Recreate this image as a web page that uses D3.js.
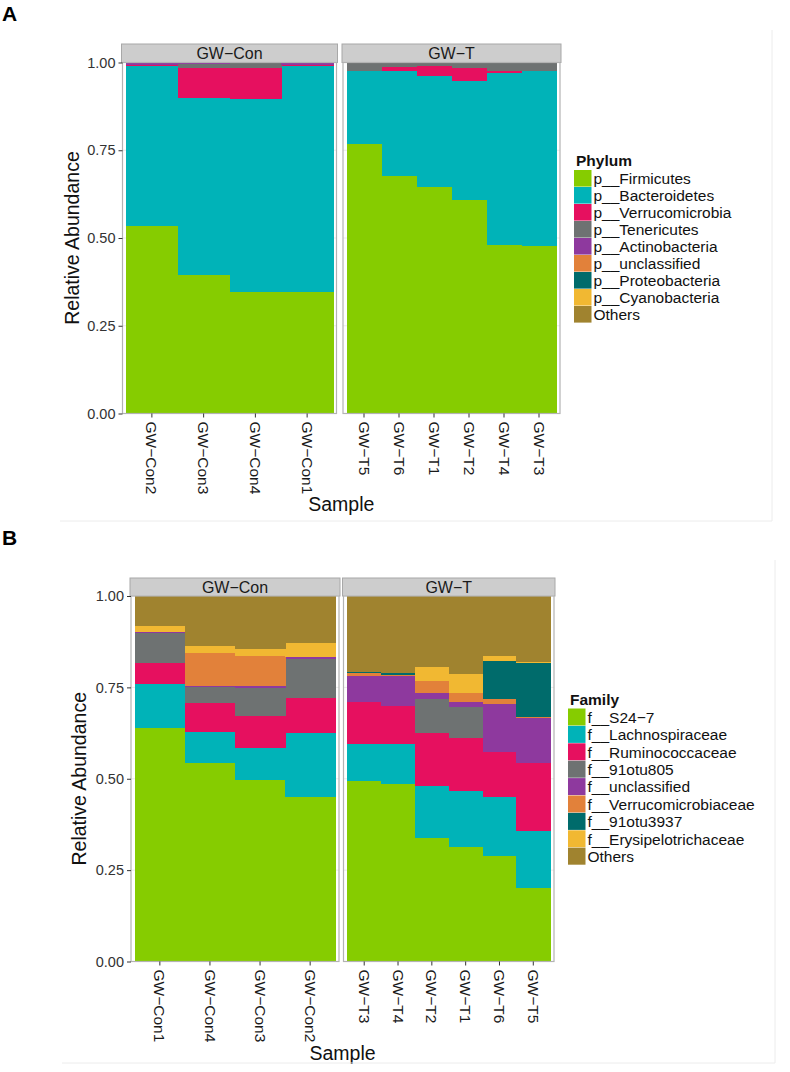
<!DOCTYPE html>
<html>
<head>
<meta charset="utf-8">
<script src="https://cdn.jsdelivr.net/npm/d3@7"></script>
<style>
  body { margin: 0; background: #fff; }
  svg { display: block; font-family: 'Liberation Sans', Arial, sans-serif; }
</style>
</head>
<body>
<div id="chart"></div>
<script>
// ---------- Panel A: phylum ----------
const samplesConA = ['GW\u2212Con2', 'GW\u2212Con3', 'GW\u2212Con4', 'GW\u2212Con1'];
const samplesTA = ['GW\u2212T5', 'GW\u2212T6', 'GW\u2212T1', 'GW\u2212T2', 'GW\u2212T4', 'GW\u2212T3'];
const phyla = ['p__Firmicutes', 'p__Bacteroidetes', 'p__Verrucomicrobia', 'p__Tenericutes',
  'p__Actinobacteria', 'p__unclassified', 'p__Proteobacteria', 'p__Cyanobacteria', 'Others'];
// values in sample order: Con2, Con3, Con4, Con1, T5, T6, T1, T2, T4, T3
const firmicutes      = [0.535, 0.395, 0.346, 0.346, 0.769, 0.678, 0.646, 0.607, 0.481, 0.478];
const bacteroidetes   = [0.454, 0.505, 0.549, 0.643, 0.207, 0.298, 0.316, 0.340, 0.490, 0.498];
const verrucomicrobia = [0.003, 0.083, 0.088, 0.003, 0.000, 0.010, 0.027, 0.036, 0.005, 0.000];
const tenericutes     = [0.002, 0.014, 0.015, 0.002, 0.022, 0.012, 0.009, 0.015, 0.022, 0.022];
const actinobacteria  = [0.005, 0.002, 0.001, 0.005, 0.001, 0.001, 0.001, 0.001, 0.001, 0.001];
const pUnclassified   = [0.000, 0.000, 0.000, 0.000, 0.000, 0.000, 0.000, 0.000, 0.000, 0.000];
const proteobacteria  = [0.000, 0.000, 0.000, 0.000, 0.000, 0.000, 0.000, 0.000, 0.000, 0.000];
const cyanobacteria   = [0.000, 0.000, 0.000, 0.000, 0.000, 0.000, 0.000, 0.000, 0.000, 0.000];
const othersA         = [0.001, 0.001, 0.001, 0.001, 0.001, 0.001, 0.001, 0.001, 0.001, 0.001];

// ---------- Panel B: family ----------
const samplesConB = ['GW\u2212Con1', 'GW\u2212Con4', 'GW\u2212Con3', 'GW\u2212Con2'];
const samplesTB = ['GW\u2212T3', 'GW\u2212T4', 'GW\u2212T2', 'GW\u2212T1', 'GW\u2212T6', 'GW\u2212T5'];
const families = ['f__S24\u22127', 'f__Lachnospiraceae', 'f__Ruminococcaceae', 'f__91otu805',
  'f__unclassified', 'f__Verrucomicrobiaceae', 'f__91otu3937', 'f__Erysipelotrichaceae', 'Others'];
// values in sample order: Con1, Con4, Con3, Con2, T3, T4, T2, T1, T6, T5
const s247              = [0.638, 0.543, 0.497, 0.450, 0.494, 0.487, 0.339, 0.314, 0.289, 0.200];
const lachnospiraceae   = [0.121, 0.086, 0.086, 0.174, 0.101, 0.108, 0.142, 0.153, 0.162, 0.158];
const ruminococcaceae   = [0.057, 0.079, 0.089, 0.096, 0.116, 0.104, 0.143, 0.145, 0.123, 0.184];
const otu805            = [0.083, 0.042, 0.075, 0.107, 0.000, 0.000, 0.093, 0.085, 0.000, 0.000];
const fUnclassified     = [0.003, 0.004, 0.007, 0.007, 0.071, 0.081, 0.018, 0.014, 0.131, 0.125];
const verrucomicrobiaceae = [0.000, 0.089, 0.082, 0.000, 0.008, 0.004, 0.033, 0.023, 0.012, 0.003];
const otu3937           = [0.000, 0.000, 0.000, 0.000, 0.003, 0.006, 0.000, 0.000, 0.105, 0.146];
const erysipelotrichaceae = [0.016, 0.020, 0.018, 0.037, 0.000, 0.000, 0.037, 0.052, 0.014, 0.004];
const othersB           = [0.082, 0.137, 0.146, 0.129, 0.207, 0.210, 0.195, 0.214, 0.164, 0.180];

const yTicks = [0, 0.25, 0.5, 0.75, 1];
const taxonColors = ['#86cc00', '#00b3b8', '#e6105f', '#6e7272', '#8e399e',
  '#e2813a', '#006b6b', '#f1b832', '#a0832f'];

const svg = d3.select('#chart').append('svg')
    .attr('width', 790)
    .attr('height', 1072);

// build the long rows that d3.stack wants
function buildRows(samples, keys, series) {
  return samples.map((s, i) => {
    const row = { sample: s };
    keys.forEach((k, j) => { row[k] = series[j][i]; });
    return row;
  });
}

function drawFacets(cfg) {
  const g = svg.append('g');
  const rows = buildRows(cfg.samples, cfg.keys, cfg.series);
  const stack = d3.stack().keys(cfg.keys);
  const color = d3.scaleOrdinal().domain(cfg.keys).range(taxonColors);

  const y = d3.scaleLinear()
      .domain([0, 1])
      .range([cfg.bottom, cfg.top]);

  let offset = 0;
  cfg.panels.forEach((p, pi) => {
    const panelRows = rows.slice(offset, offset + p.n);
    offset += p.n;

    // strip
    g.append('rect')
        .attr('x', p.x0 - 1).attr('y', cfg.stripTop)
        .attr('width', p.x1 - p.x0 + 2).attr('height', cfg.top - cfg.stripTop)
        .attr('fill', '#cdcdcd').attr('stroke', '#a8a8a8').attr('stroke-width', 1);
    g.append('text')
        .attr('x', (p.x0 + p.x1) / 2)
        .attr('y', (cfg.stripTop + cfg.top) / 2)
        .attr('dy', '0.36em')
        .attr('text-anchor', 'middle')
        .attr('font-size', 16)
        .attr('fill', '#1a1a1a')
        .text(p.name);

    // panel background + grid
    g.append('rect')
        .attr('x', p.x0).attr('y', cfg.top)
        .attr('width', p.x1 - p.x0).attr('height', cfg.bottom - cfg.top)
        .attr('fill', '#fff');
    g.append('g').selectAll('line')
        .data(yTicks)
        .join('line')
        .attr('x1', p.x0).attr('x2', p.x1)
        .attr('y1', d => y(d)).attr('y2', d => y(d))
        .attr('stroke', '#ebebeb');

    const x = d3.scaleBand()
        .domain(panelRows.map(d => d.sample))
        .range([p.x0 + cfg.pad, p.x1 - cfg.pad])
        .padding(0);

    g.append('g')
        .attr('shape-rendering', 'crispEdges')
        .selectAll('g')
        .data(stack(panelRows))
        .join('g')
        .attr('fill', d => color(d.key))
        .selectAll('rect')
        .data(d => d)
        .join('rect')
        .attr('x', d => x(d.data.sample))
        .attr('width', x.bandwidth() + 0.5)
        .attr('y', d => y(d[1]))
        .attr('height', d => Math.max(0, y(d[0]) - y(d[1])));

    // panel border
    g.append('rect')
        .attr('x', p.x0).attr('y', cfg.top)
        .attr('width', p.x1 - p.x0).attr('height', cfg.bottom - cfg.top)
        .attr('fill', 'none').attr('stroke', '#b3b3b3').attr('stroke-width', 1.2);

    // x axis
    const xAxis = g.append('g')
        .attr('transform', `translate(0, ${cfg.bottom})`)
        .call(d3.axisBottom(x).tickSize(4).tickSizeOuter(0));
    xAxis.select('.domain').remove();
    xAxis.selectAll('line').attr('stroke', '#333');
    xAxis.selectAll('text')
        .attr('x', 8).attr('y', 0)
        .attr('dy', '0.35em')
        .attr('transform', 'rotate(90)')
        .style('text-anchor', 'start')
        .attr('font-size', 15.5)
        .attr('font-family', "'Liberation Sans', Arial, sans-serif")
        .attr('fill', '#1a1a1a');

    if (pi === 0) {
      const yAxis = g.append('g')
          .attr('transform', `translate(${p.x0}, 0)`)
          .call(d3.axisLeft(y).tickValues(yTicks).tickFormat(d3.format('.2f')).tickSize(4).tickPadding(3));
      yAxis.select('.domain').remove();
      yAxis.selectAll('line').attr('stroke', '#333');
      yAxis.selectAll('text')
          .attr('font-size', 14.5)
          .attr('font-family', "'Liberation Sans', Arial, sans-serif")
          .attr('fill', '#333');
    }
  });

  // axis titles
  g.append('text')
      .attr('transform', `translate(${cfg.yTitleX}, ${(cfg.top + cfg.bottom) / 2}) rotate(-90)`)
      .attr('text-anchor', 'middle')
      .attr('font-size', 19.5)
      .attr('fill', '#111')
      .text('Relative Abundance');
  g.append('text')
      .attr('x', (cfg.panels[0].x0 + cfg.panels[1].x1) / 2)
      .attr('y', cfg.sampleY)
      .attr('text-anchor', 'middle')
      .attr('font-size', 19.5)
      .attr('fill', '#111')
      .text('Sample');

  // legend
  const lg = g.append('g').attr('transform', `translate(${cfg.legendX}, ${cfg.legendY})`);
  lg.append('text')
      .attr('x', 2).attr('y', -4)
      .attr('font-size', 15.5)
      .attr('font-weight', 'bold')
      .attr('fill', '#111')
      .text(cfg.legendTitle);
  const items = lg.selectAll('g.item')
      .data(cfg.keys)
      .join('g')
      .attr('class', 'item')
      .attr('transform', (d, i) => `translate(0, ${i * cfg.legendStep})`);
  items.append('rect')
      .attr('width', 17.5).attr('height', cfg.legendStep - 0.4)
      .attr('fill', d => color(d));
  items.append('text')
      .attr('x', 19.5).attr('y', cfg.legendStep / 2)
      .attr('dy', '0.36em')
      .attr('font-size', 15.5)
      .attr('fill', '#111')
      .text(d => d);

  // faint outer frame (right and bottom edges)
  g.append('path')
      .attr('d', `M${cfg.frame.x1},${cfg.frame.y0}V${cfg.frame.y1}H${cfg.frame.x0}`)
      .attr('fill', 'none')
      .attr('stroke', '#ececec');
}

drawFacets({
  samples: samplesConA.concat(samplesTA),
  keys: phyla,
  series: [firmicutes, bacteroidetes, verrucomicrobia, tenericutes, actinobacteria,
    pUnclassified, proteobacteria, cyanobacteria, othersA],
  panels: [
    { name: 'GW\u2212Con', n: samplesConA.length, x0: 122.5, x1: 336.5 },
    { name: 'GW\u2212T', n: samplesTA.length, x0: 343, x1: 560 }
  ],
  pad: 3.5,
  stripTop: 44,
  top: 62.5,
  bottom: 413.5,
  yTitleX: 79,
  sampleY: 511,
  legendTitle: 'Phylum',
  legendX: 574,
  legendY: 170,
  legendStep: 17,
  frame: { x0: 60, y0: 30, x1: 772, y1: 521 }
});

drawFacets({
  samples: samplesConB.concat(samplesTB),
  keys: families,
  series: [s247, lachnospiraceae, ruminococcaceae, otu805, fUnclassified,
    verrucomicrobiaceae, otu3937, erysipelotrichaceae, othersB],
  panels: [
    { name: 'GW\u2212Con', n: samplesConB.length, x0: 131, x1: 339 },
    { name: 'GW\u2212T', n: samplesTB.length, x0: 343.5, x1: 554 }
  ],
  pad: 3.8,
  stripTop: 578,
  top: 596,
  bottom: 961.5,
  yTitleX: 86,
  sampleY: 1060,
  legendTitle: 'Family',
  legendX: 568,
  legendY: 708.5,
  legendStep: 17.4,
  frame: { x0: 62, y0: 560, x1: 775, y1: 1063 }
});

// panel letters
svg.append('text').attr('x', 2).attr('y', 21)
    .attr('font-size', 21).attr('font-weight', 'bold').attr('fill', '#000').text('A');
svg.append('text').attr('x', 2).attr('y', 545)
    .attr('font-size', 21).attr('font-weight', 'bold').attr('fill', '#000').text('B');
</script>
</body>
</html>
